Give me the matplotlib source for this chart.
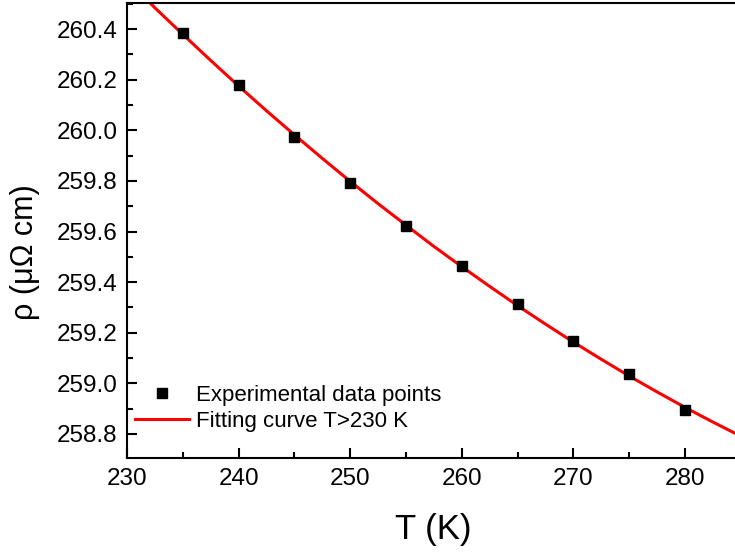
import matplotlib
matplotlib.use("Agg")
import matplotlib.pyplot as plt
from matplotlib.ticker import MultipleLocator, FormatStrFormatter

# Experimental data
T_data = [235, 240, 245, 250, 255, 260, 265, 270, 275, 280]
rho_data = [260.384, 260.18, 259.972, 259.79, 259.621, 259.464, 259.315, 259.167, 259.035, 258.895]

# Fitting curve
T_fit = [232, 232.5, 235, 237.5, 240, 242.5, 245, 247.5, 250, 252.5, 255, 257.5, 260,
         262.5, 265, 267.5, 270, 272.5, 275, 277.5, 280, 282.5, 285]
rho_fit = [260.506, 260.484, 260.379, 260.276, 260.175, 260.077, 259.982, 259.889, 259.798,
           259.710, 259.625, 259.541, 259.461, 259.383, 259.307, 259.234, 259.163, 259.095,
           259.029, 258.966, 258.905, 258.847, 258.791]

plt.rcParams['font.family'] = ['Liberation Sans', 'DejaVu Sans']

fig = plt.figure(figsize=(7.35, 5.52), dpi=100)
ax = fig.add_axes([127/735, 94/552, 608/735, 455/552])

ax.plot(T_data, rho_data, 's', color='black', markersize=7.2, label='Experimental data points', zorder=3)
ax.plot(T_fit, rho_fit, '-', color='red', linewidth=2.2, label='Fitting curve T>230 K', zorder=2)

ax.set_xlim(230, 284.48)
ax.set_ylim(258.705, 260.503)

ax.xaxis.set_major_locator(MultipleLocator(10))
ax.xaxis.set_minor_locator(MultipleLocator(5))
ax.yaxis.set_major_locator(MultipleLocator(0.2))
ax.yaxis.set_minor_locator(MultipleLocator(0.1))
ax.yaxis.set_major_formatter(FormatStrFormatter('%.1f'))

ax.spines['right'].set_visible(False)
for s in ['left', 'bottom', 'top']:
    ax.spines[s].set_linewidth(1.5)

ax.tick_params(which='both', direction='in', width=1.5, labelsize=17.5, top=False, right=False)
ax.tick_params(which='major', length=7, pad=7)
ax.tick_params(which='minor', length=4.5)

ax.set_xlabel('T (K)', fontsize=25)
ax.xaxis.set_label_coords(306/608, -(513-458)/455)
ax.set_ylabel('ρ (μΩ cm)', fontsize=22)
ax.yaxis.set_label_coords(-(127-40)/608, (458-252)/455)

leg = ax.legend(loc='upper left', bbox_to_anchor=(0.013, 0.160), frameon=False,
                fontsize=16, handlelength=2.45, handletextpad=0.3, borderpad=0,
                borderaxespad=0, labelspacing=0.2, numpoints=1)

fig.savefig('out.png', dpi=100)
